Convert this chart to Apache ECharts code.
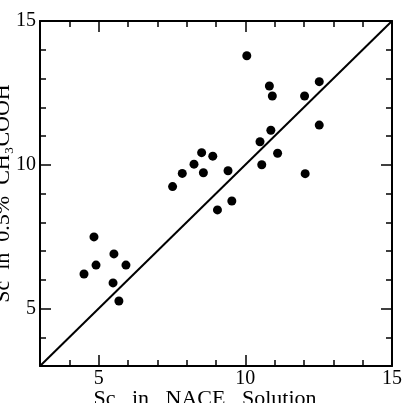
<!DOCTYPE html>
<html>
<head>
<meta charset="utf-8">
<script src="https://cdn.jsdelivr.net/npm/echarts@6/dist/echarts.min.js"></script>
<style>
html,body{margin:0;padding:0;background:#fff;}
#chart{width:409px;height:403px;}
</style>
</head>
<body>
<div id="chart"></div>
<script>
// Data
const scNace = [4.84, 5.52, 4.91, 5.93, 4.50, 5.49, 5.69,
  8.51, 8.89, 8.25, 7.85, 8.57, 9.41, 7.52, 9.54, 9.05,
  10.50, 11.10, 10.56, 10.05, 10.82, 10.92, 12.02, 12.52, 10.87, 12.52, 12.04];
const scAcetic = [7.49, 6.90, 6.51, 6.51, 6.20, 5.89, 5.26,
  10.42, 10.30, 10.02, 9.70, 9.72, 9.79, 9.24, 8.74, 8.43,
  10.80, 10.40, 10.00, 13.79, 12.74, 12.39, 12.39, 12.89, 11.20, 11.38, 9.69];
const lineX = [3, 15];
const lineY = [3, 15];
const axisMin = 3, axisMax = 15;
const tickLabels = [5, 10, 15];
const longTicks = [5, 10];
const xName = 'Sc   in   NACE   Solution';
const yName = 'Sc  in  0.5%  CH₃COOH';

const FONT = '"Liberation Serif","DejaVu Serif",serif';
const chart = echarts.init(document.getElementById('chart'));

function mkAxis(pos, opts) {
  const base = {
    type: 'value', min: axisMin, max: axisMax, interval: 1, position: pos,
    splitLine: {show: false},
    axisLine: {show: true, onZero: false, lineStyle: {color: '#000', width: 2}},
    axisTick: {show: true, inside: true, length: 6, lineStyle: {color: '#000', width: 1.5}},
    axisLabel: {show: false}
  };
  return Object.assign(base, opts || {});
}
function longAxis(pos) {
  return {
    type: 'value', min: axisMin, max: axisMax, position: pos,
    splitLine: {show: false},
    axisLine: {show: false, onZero: false},
    axisTick: {show: true, inside: true, length: 11, customValues: longTicks, lineStyle: {color: '#000', width: 1.5}},
    axisLabel: {show: false}
  };
}
const lbl = {
  show: true, margin: 3, color: '#000', fontFamily: FONT, fontSize: 20,
  formatter: v => tickLabels.includes(v) ? String(v) : ''
};

chart.setOption({
  animation: false,
  backgroundColor: '#fff',
  grid: {left: 40, right: 17, top: 21, bottom: 37, containLabel: false, outerBoundsMode: 'none'},
  xAxis: [
    mkAxis('bottom', {axisLabel: lbl, name: xName, nameLocation: 'middle', nameGap: 22, nameMoveOverlap: false,
      nameTextStyle: {color: '#000', fontFamily: FONT, fontSize: 22, verticalAlign: 'top', padding: [0, 22, 0, 0]}}),
    longAxis('bottom'),
    mkAxis('top'),
    longAxis('top')
  ],
  yAxis: [
    mkAxis('left', {axisLabel: Object.assign({}, lbl, {margin: 4}), name: yName, nameLocation: 'middle', nameGap: 26,
      nameMoveOverlap: false, nameRotate: 90, nameTextStyle: {color: '#000', fontFamily: FONT, fontSize: 22}}),
    longAxis('left'),
    mkAxis('right'),
    longAxis('right')
  ],
  series: [
    {
      type: 'line', xAxisIndex: 0, yAxisIndex: 0,
      data: lineX.map((x, i) => [x, lineY[i]]),
      symbol: 'none', lineStyle: {color: '#000', width: 2}, silent: true, z: 2
    },
    {
      type: 'scatter', xAxisIndex: 0, yAxisIndex: 0,
      data: scNace.map((x, i) => [x, scAcetic[i]]),
      symbol: 'circle', symbolSize: 9, itemStyle: {color: '#000', opacity: 1}, z: 3
    }
  ]
});
</script>
</body>
</html>
